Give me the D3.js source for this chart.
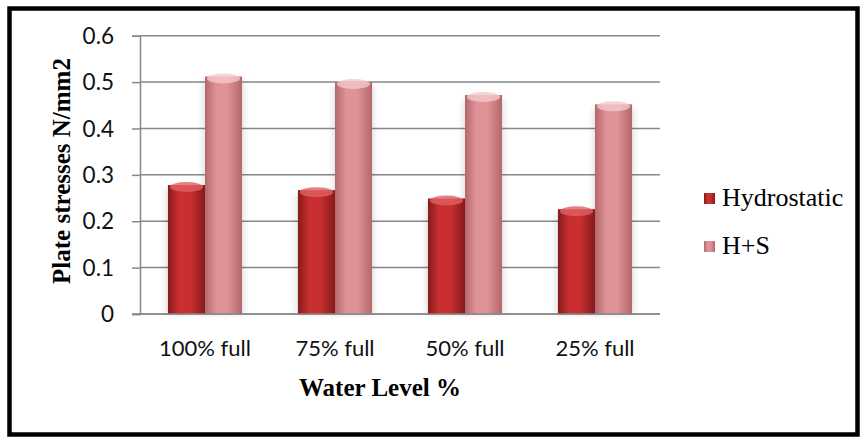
<!DOCTYPE html>
<html>
<head>
<meta charset="utf-8">
<script src="https://cdn.jsdelivr.net/npm/d3@7"></script>
<style>
  body { margin: 0; background: #fff; }
  svg { display: block; }
  .tick text, .cat { font-family: Lato, "Open Sans", sans-serif; fill: #111; }
  .serif { font-family: "Liberation Serif", "Times New Roman", serif; fill: #000; }
</style>
</head>
<body>
<div id="chart"></div>
<script>
const categories = ["100% full", "75% full", "50% full", "25% full"];
const seriesNames = ["Hydrostatic", "H+S"];
const hydrostatic = [0.278, 0.267, 0.249, 0.226];
const hs = [0.512, 0.500, 0.472, 0.452];
const yTicks = [0, 0.1, 0.2, 0.3, 0.4, 0.5, 0.6];

const W = 863, H = 437;
const margin = { top: 35.7, right: 203, bottom: 123, left: 140 };
const width = W - margin.left - margin.right,
      height = H - margin.top - margin.bottom;

const svg = d3.select("#chart").append("svg")
    .attr("width", W).attr("height", H);

const defs = svg.append("defs");
const palettes = [
    { id: "g0", edge: "#861a1c", mid: "#c92f30", cap: "#e06262" },
    { id: "g1", edge: "#b5686b", mid: "#df9397", cap: "#f4c8cb" }
];
palettes.forEach(p => {
    const g = defs.append("linearGradient").attr("id", p.id)
        .attr("x1", "0%").attr("x2", "100%").attr("y1", "0%").attr("y2", "0%");
    g.append("stop").attr("offset", "0%").attr("stop-color", p.edge);
    g.append("stop").attr("offset", "30%").attr("stop-color", p.mid);
    g.append("stop").attr("offset", "60%").attr("stop-color", p.mid);
    g.append("stop").attr("offset", "100%").attr("stop-color", p.edge);
});
const blur = defs.append("filter").attr("id", "soft")
    .attr("x", "-30%").attr("y", "-10%").attr("width", "160%").attr("height", "120%");
blur.append("feGaussianBlur").attr("stdDeviation", 3);

// outer frame
svg.append("rect")
    .attr("x", 9.5).attr("y", 8.5).attr("width", 848).attr("height", 426)
    .attr("fill", "none").attr("stroke", "#000").attr("stroke-width", 4.5);

const g = svg.append("g")
    .attr("transform", "translate(" + margin.left + "," + margin.top + ")");

const x = d3.scaleBand().domain(categories).range([0, width])
    .paddingInner(0.43).paddingOuter(0.215);
const xs = d3.scaleBand().domain(seriesNames).range([0, x.bandwidth()]);
const y = d3.scaleLinear().domain([0, 0.6]).range([height, 0]);

// gridlines + y axis
const yAxis = g.append("g")
    .call(d3.axisLeft(y).tickValues(yTicks).tickSize(8)
        .tickFormat(d => d === 0 ? "0" : d3.format(".1f")(d)));
yAxis.select(".domain").attr("stroke", "#888").attr("stroke-width", 1.5);
yAxis.selectAll(".tick line").attr("stroke", "#888").attr("stroke-width", 1.5);
yAxis.selectAll(".tick text").attr("font-size", 22.5).attr("x", -26).attr("dy", "0.34em");

g.append("g").selectAll("line").data(yTicks).join("line")
    .attr("x1", 0).attr("x2", width)
    .attr("y1", d => y(d)).attr("y2", d => y(d))
    .attr("stroke", "#888").attr("stroke-width", 1.5);

const rows = [];
categories.forEach((c, i) => {
    rows.push({ cat: c, s: 0, v: hydrostatic[i] });
    rows.push({ cat: c, s: 1, v: hs[i] });
});

// soft shadow behind bars
g.append("g").selectAll("rect").data(rows).join("rect")
    .attr("x", d => x(d.cat) + xs(seriesNames[d.s]) - 2)
    .attr("y", d => y(d.v) + 4)
    .attr("width", xs.bandwidth() + 4)
    .attr("height", d => height - y(d.v) - 4)
    .attr("fill", "#000").attr("opacity", 0.12)
    .attr("filter", "url(#soft)");

const bars = g.append("g").selectAll("g").data(rows).join("g");
bars.append("rect")
    .attr("x", d => x(d.cat) + xs(seriesNames[d.s]))
    .attr("y", d => y(d.v))
    .attr("width", xs.bandwidth())
    .attr("height", d => height - y(d.v))
    .attr("fill", d => "url(#g" + d.s + ")");
bars.append("ellipse")
    .attr("cx", d => x(d.cat) + xs(seriesNames[d.s]) + xs.bandwidth() / 2)
    .attr("cy", d => y(d.v) + 2)
    .attr("rx", xs.bandwidth() / 2 - 2)
    .attr("ry", 5)
    .attr("fill", d => palettes[d.s].cap).attr("opacity", 0.8);

// x axis baseline
g.append("line").attr("x1", -8).attr("x2", width)
    .attr("y1", height).attr("y2", height)
    .attr("stroke", "#888").attr("stroke-width", 1.5);

g.append("g").selectAll("text").data(categories).join("text")
    .attr("class", "cat")
    .attr("x", d => x(d) + x.bandwidth() / 2)
    .attr("y", height + 42)
    .attr("text-anchor", "middle").attr("font-size", 22)
    .text(d => d);

// axis titles
svg.append("text").attr("class", "serif")
    .attr("x", 380).attr("y", 396)
    .attr("text-anchor", "middle").attr("font-size", 25).attr("font-weight", "bold")
    .text("Water Level %");
svg.append("text").attr("class", "serif")
    .attr("transform", "translate(70,171) rotate(-90)")
    .attr("text-anchor", "middle").attr("font-size", 25).attr("font-weight", "bold")
    .text("Plate stresses N/mm2");

// legend
const legend = svg.append("g").selectAll("g").data(seriesNames).join("g")
    .attr("transform", (d, i) => "translate(704," + (193 + i * 48) + ")");
legend.append("rect").attr("width", 11).attr("height", 11)
    .attr("fill", (d, i) => "url(#g" + i + ")");
legend.append("text").attr("class", "serif")
    .attr("x", 18).attr("y", 13).attr("font-size", 26)
    .text(d => d);
</script>
</body>
</html>
